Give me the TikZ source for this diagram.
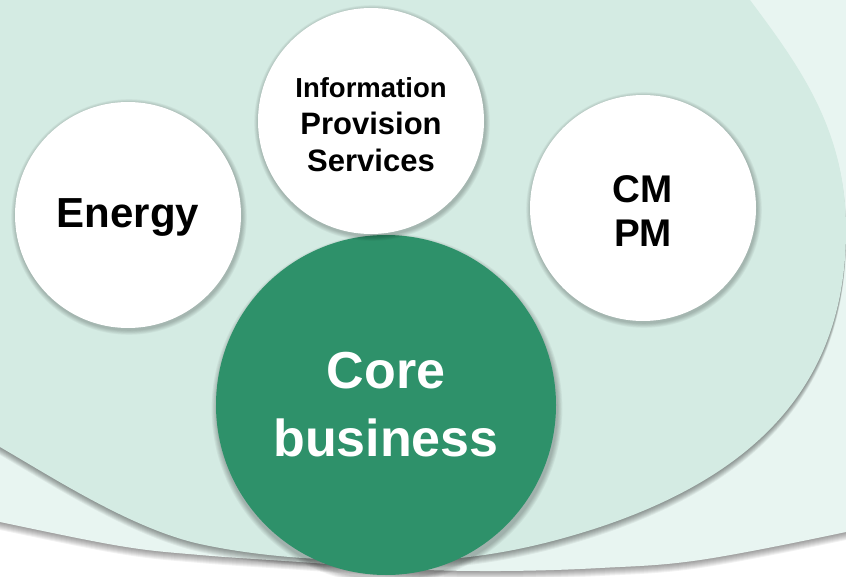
\documentclass[tikz,border=0pt]{standalone}
\usepackage{fontspec}
\setmainfont{Liberation Sans}
\definecolor{outerg}{HTML}{E8F5F1}
\definecolor{midg}{HTML}{D4EBE3}
\definecolor{coreg}{HTML}{2E916A}
\tikzset{
  outerpath/.style={insert path={plot[smooth, tension=0.6] coordinates {(-30,515) (0,522) (120,546) (200,555) (300,562) (400,569) (500,571) (600,568) (700,560) (846,532) (880,522)} -- (880,-60) -- (-30,-60) -- cycle}},
  midpath/.style={insert path={(705,-60) -- (750,0) .. controls (800,67) and (846,130) .. (846,230)
     .. controls (846,380) and (761,473) .. (600,527)
     .. controls (533,549) and (470,561) .. (400,561)
     .. controls (333,561) and (265,558) .. (200,544)
     .. controls (132,529) and (52,477) .. (0,447)
     -- (-43,422) -- (-60,-60) -- cycle}},
  bubble/.style={circle, fill=white, inner sep=0pt, minimum size=226pt, align=center, text=black},
  corebubble/.style={circle, fill=coreg, inner sep=0pt, minimum size=340pt, align=center, text=white}
}
\begin{document}
\begin{tikzpicture}[x=1pt,y=-1pt]
\useasboundingbox (0,0) rectangle (846,577);
\clip (0,0) rectangle (846,577);
% outer band
\foreach \k in {1,...,8}{\fill[black, opacity=0.055, yshift=-\k pt, outerpath];}
\fill[outerg, outerpath];
% middle band
\foreach \k in {1,...,8}{\fill[black, opacity=0.055, yshift=-\k pt, midpath];}
\fill[midg, midpath];
% core circle
\foreach \k in {1,...,6}{\fill[black, opacity=0.045] (387,409) circle ({170+0.9*\k});}
\node[corebubble, font=\bfseries\fontsize{52}{68}\selectfont] (core) at (386,405) {Core\\business};
% white bubbles shadows
\foreach \cx/\cy in {128/215, 371/121, 643/208}{
  \foreach \k in {1,...,6}{\fill[black, opacity=0.04] (\cx+1,\cy+2) circle ({113+0.8*\k});}
}
\node[bubble, font=\bfseries\fontsize{42}{50}\selectfont] (energy) at (128,215) {\rule{0pt}{34pt}Energy};
\node[bubble, font=\bfseries\fontsize{31}{37}\selectfont] (info) at (371,121) {{\fontsize{27.5}{37}\selectfont\rule{0pt}{27pt}Information}\\Provision\\Services};
\node[bubble, font=\bfseries\fontsize{38.6}{44}\selectfont] (cmpm) at (643,208) {\rule{0pt}{33.5pt}CM\\PM};
\end{tikzpicture}
\end{document}
